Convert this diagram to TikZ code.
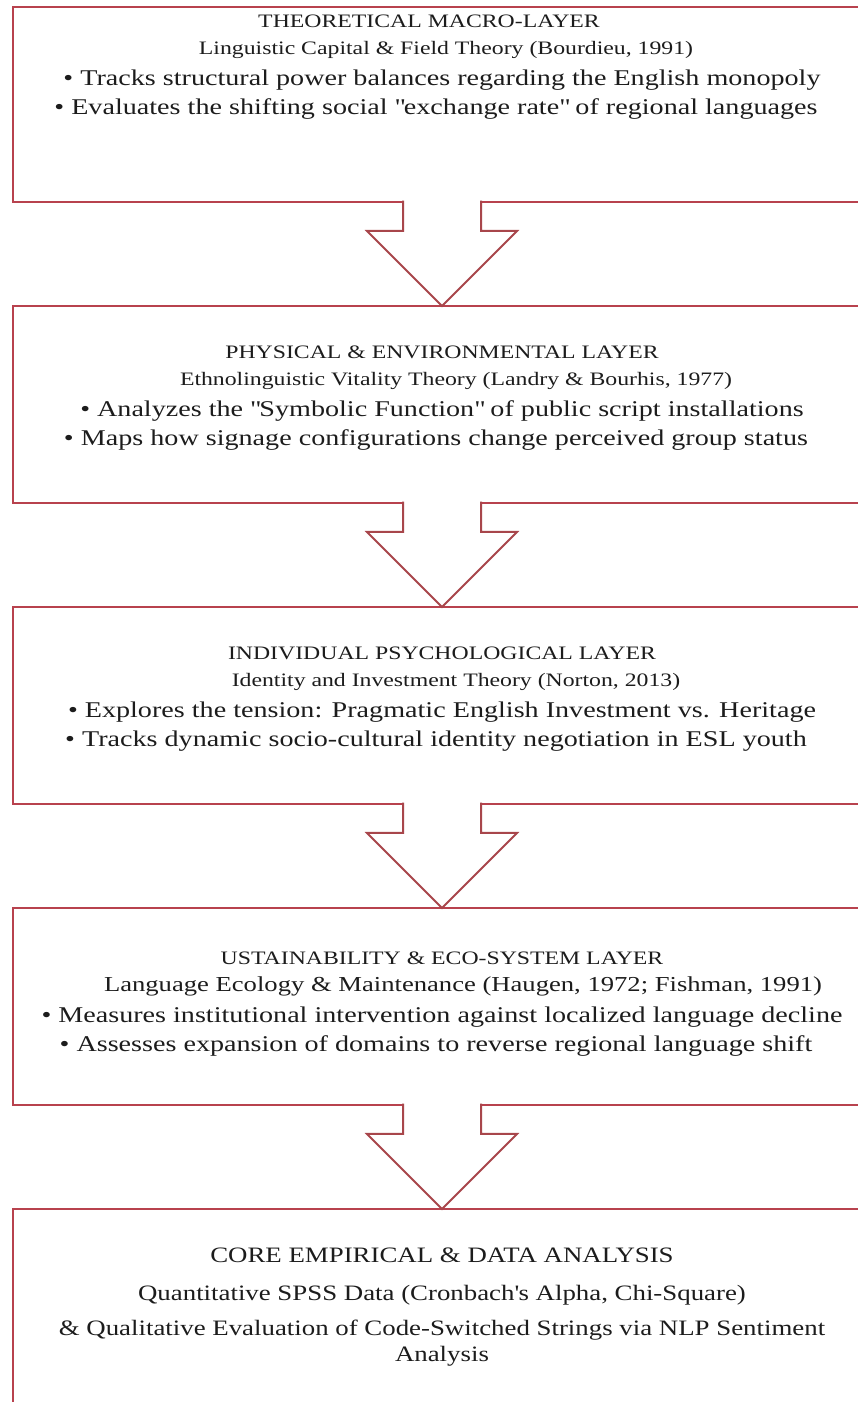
\documentclass[tikz,border=0pt]{standalone}
\usepackage{fontspec}
\setmainfont{Liberation Serif}[FakeStretch=1.25]
\newfontfamily\corefont{Liberation Serif}[FakeStretch=1.22]
\usetikzlibrary{positioning, calc}
\definecolor{layerline}{HTML}{B8424E}
\definecolor{arrowline}{HTML}{A8464B}
\definecolor{inktext}{HTML}{1C1C1C}

% bullet lines are set a bit larger than the headings
\newcommand\bulletline[1]{{\fontsize{22.5}{29}\selectfont • #1\hspace*{12pt}}}

\tikzset{
  layer/.style={draw=layerline, line width=2.5pt, rectangle, outer sep=0pt,
                inner sep=0pt, minimum width=858pt, minimum height=197pt},
  layertext/.style={align=center, inner sep=0pt, text=inktext,
                    font=\fontsize{19}{29}\selectfont},
  downarrow/.style={draw=arrowline, fill=white, line width=2pt},
}

\begin{document}
\begin{tikzpicture}[x=1pt, y=1pt]
  \useasboundingbox (0,0) rectangle (857,1402);

  % the five layers, top to bottom
  \node[layer, minimum height=195pt, anchor=north] (theo) at (442,1395) {};
  \node[layer, below=104pt of theo] (phys) {};
  \node[layer, below=104pt of phys] (indiv) {};
  \node[layer, below=104pt of indiv] (ecol) {};
  \node[layer, below=104pt of ecol] (core) {};

  \node[layertext, below=8pt of theo.north] (theo-text) {%
    THEORETICAL MACRO-LAYER\hspace*{26pt}\\[-2pt]
    \hspace*{8pt}Linguistic Capital \& Field Theory (Bourdieu, 1991)\\[2pt]
    \bulletline{Tracks structural power balances regarding the English monopoly}\\
    \bulletline{Evaluates the shifting social \textquotedbl exchange rate\textquotedbl{} of regional languages}};
  \node[layertext, below=40pt of phys.north] (phys-text) {%
    PHYSICAL \& ENVIRONMENTAL LAYER\\[-2pt]
    \hspace*{28pt}Ethnolinguistic Vitality Theory (Landry \& Bourhis, 1977)\\[2pt]
    \bulletline{Analyzes the \textquotedbl Symbolic Function\textquotedbl{} of public script installations}\\
    \bulletline{Maps how signage configurations change perceived group status}};
  \node[layertext, below=40pt of indiv.north] (indiv-text) {%
    INDIVIDUAL PSYCHOLOGICAL LAYER\\[-2pt]
    \hspace*{28pt}Identity and Investment Theory (Norton, 2013)\\[2pt]
    \bulletline{Explores the tension: Pragmatic English Investment vs. Heritage}\\
    \bulletline{Tracks dynamic socio-cultural identity negotiation in ESL youth}};
  \node[layertext, below=44pt of ecol.north] (ecol-text) {%
    USTAINABILITY \& ECO-SYSTEM LAYER\\[-2pt]
    {\fontsize{21.3}{29}\selectfont\hspace*{42pt}Language Ecology \& Maintenance (Haugen, 1972; Fishman, 1991)}\\[2pt]
    \bulletline{Measures institutional intervention against localized language decline}\\
    \bulletline{Assesses expansion of domains to reverse regional language shift}};
  \node[layertext, font=\corefont\fontsize{22}{26}\selectfont,
        below=39pt of core.north] (core-text) {%
    CORE EMPIRICAL \& DATA ANALYSIS\\[12pt]
    Quantitative SPSS Data (Cronbach\textquotesingle s Alpha, Chi-Square)\\[9pt]
    \& Qualitative Evaluation of Code-Switched Strings via NLP Sentiment\\
    Analysis};

  % block arrows between the layers
  \foreach \a/\b in {theo/phys, phys/indiv, indiv/ecol, ecol/core}
    \draw[downarrow] ($(\a.south)+(-39,1.25)$) -- ($(\a.south)+(-39,-29)$)
      -- ($(\a.south)+(-75,-29)$) -- (\b.north) -- ($(\a.south)+(75,-29)$)
      -- ($(\a.south)+(39,-29)$) -- ($(\a.south)+(39,1.25)$);
\end{tikzpicture}
\end{document}
